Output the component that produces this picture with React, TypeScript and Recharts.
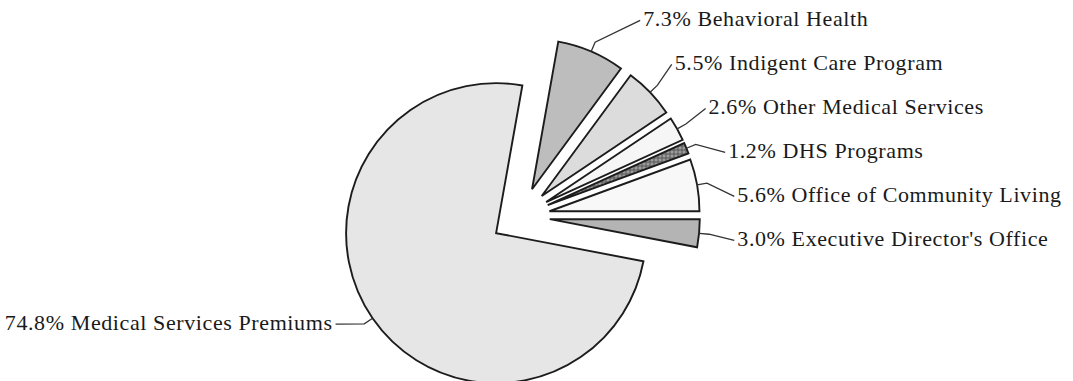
import React from 'react';
import { PieChart, Pie, Cell, Sector } from 'recharts';

// slices listed counter-clockwise, starting just below 3 o'clock
const categories = [
  "Executive Director's Office",
  'Office of Community Living',
  'DHS Programs',
  'Other Medical Services',
  'Indigent Care Program',
  'Behavioral Health',
  'Medical Services Premiums',
];
const shares = [3.0, 5.6, 1.2, 2.6, 5.5, 7.3, 74.8];
const sliceFills = ['#b4b4b4', '#f8f8f8', 'url(#dhsDots)', '#f6f6f6', '#dcdcdc', '#bdbdbd', '#e6e6e6'];

const data = categories.map((name, i) => ({ name, value: shares[i] }));

const RAD = Math.PI / 180;
const EXPLODE = 29.5;
const LABEL_RING = 218;
const FONT = '"Liberation Serif", "Times New Roman", serif';

const offset = (mid: number) => ({
  dx: EXPLODE * Math.cos(-mid * RAD),
  dy: EXPLODE * Math.sin(-mid * RAD),
});

const ExplodedSlice = (props: any) => {
  const { dx, dy } = offset(props.midAngle);
  return (
    <Sector
      cx={props.cx + dx}
      cy={props.cy + dy}
      innerRadius={0}
      outerRadius={props.outerRadius}
      startAngle={props.startAngle}
      endAngle={props.endAngle}
      fill={props.fill}
      stroke="#1c1c1c"
      strokeWidth={1.9}
    />
  );
};

const renderLabel = (props: any) => {
  const { cx, cy, midAngle, outerRadius, index } = props;
  const { dx, dy } = offset(midAngle);
  const cos = Math.cos(-midAngle * RAD);
  const sin = Math.sin(-midAngle * RAD);
  const ax = cx + dx + outerRadius * cos;
  const ay = cy + dy + outerRadius * sin;
  const ex = cx + dx + (outerRadius + 10) * cos;
  const ey = cy + dy + (outerRadius + 10) * sin;
  const left = cos < 0;
  // small slices: labels stacked evenly on the right, along a ring
  const ty = left ? ay + 4 : cy + 22 - index * 44;
  let tx = ax - 40;
  if (!left) {
    const h = cy - ty;
    tx = cx + Math.sqrt(Math.max(0, LABEL_RING * LABEL_RING - h * h));
    if (tx - ax < 22) tx = ax + 52;
  }
  return (
    <g>
      <path
        d={`M${ax},${ay}L${ex},${ey}L${left ? tx + 3 : tx - 3},${ty + 2}`}
        stroke="#333"
        strokeWidth={1.3}
        fill="none"
      />
      <text
        x={tx}
        y={ty}
        textAnchor={left ? 'end' : 'start'}
        dominantBaseline="central"
        fontFamily={FONT}
        fontSize={22}
        letterSpacing={0.6}
        fill="#1a1a1a"
      >
        {`${shares[index].toFixed(1)}% ${categories[index]}`}
      </text>
    </g>
  );
};

export default function App() {
  return (
    <div style={{ position: 'absolute', left: 0, top: 0, background: '#fff' }}>
      <PieChart width={1073} height={381} margin={{ top: 0, right: 0, bottom: 0, left: 0 }}>
        <defs>
          <pattern id="dhsDots" width={4} height={4} patternUnits="userSpaceOnUse">
            <rect width={4} height={4} fill="#9c9c9c" />
            <circle cx={2} cy={2} r={1.2} fill="none" stroke="#333" strokeWidth={0.7} />
          </pattern>
        </defs>
        <Pie
          data={data}
          dataKey="value"
          nameKey="name"
          cx={520.4}
          cy={216.4}
          outerRadius={150}
          startAngle={-10.8}
          endAngle={349.2}
          shape={ExplodedSlice}
          activeShape={ExplodedSlice}
          label={renderLabel}
          labelLine={false}
          isAnimationActive={false}
        >
          {data.map((d, i) => (
            <Cell key={d.name} fill={sliceFills[i]} />
          ))}
        </Pie>
      </PieChart>
    </div>
  );
}
